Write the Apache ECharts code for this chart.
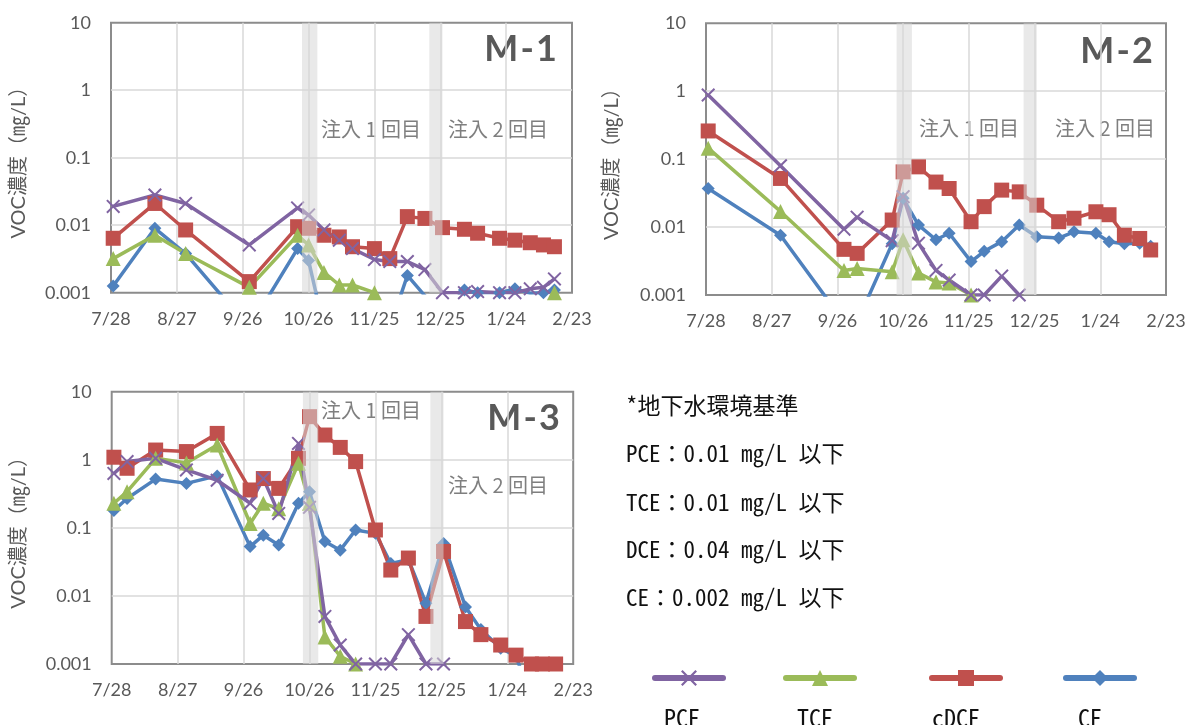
<!DOCTYPE html>
<html>
<head>
<meta charset="utf-8">
<script src="https://cdn.jsdelivr.net/npm/echarts@6/dist/echarts.min.js"></script>
<style>
  html, body { margin: 0; padding: 0; background: #fff; }
  #chart { width: 1189px; height: 725px; }
</style>
</head>
<body>
<div id="chart"></div>
<script>
// x axis: days since 7/28, ticks every 30 days
const xTickLabels = ['7/28', '8/27', '9/26', '10/26', '11/25', '12/25', '1/24', '2/23'];
const yTickLabels = ['0.001', '0.01', '0.1', '1', '10'];
const seriesNames = ['PCE', 'TCE', 'cDCE', 'CE'];
// injection periods (days since 7/28)
const bandRanges = [[87, 94], [145, 151]];

// M-1
const m1Days = [1, 20, 34, 63, 85, 90, 97, 104, 110, 120, 127, 135, 143, 151, 161, 167, 177, 184, 191, 197, 202];
const m1PCE = [0.019, 0.028, 0.021, 0.0051, 0.018, 0.0142, 0.0085, 0.006, 0.0045, 0.0031, 0.0029, 0.0029, 0.0022, 0.001, 0.001, 0.00104, 0.001, 0.001, 0.00114, 0.0012, 0.0016];
const m1TCE = [0.0032, 0.0071, 0.0038, 0.0012, 0.0071, 0.0051, 0.002, 0.0013, 0.0013, 0.001, 0.0003, 0.0003, 0.0003, 0.0003, 0.0003, 0.0003, 0.0003, 0.0003, 0.0003, 0.0003, 0.001];
const m1cDCE = [0.0064, 0.021, 0.0085, 0.00146, 0.0095, 0.009, 0.0071, 0.0067, 0.0048, 0.0045, 0.0032, 0.0134, 0.0126, 0.0092, 0.0087, 0.0076, 0.0064, 0.006, 0.0055, 0.0051, 0.0048];
const m1CE = [0.00126, 0.009, 0.0038, 0.0003, 0.0045, 0.003, 0.0003, 0.0003, 0.0003, 0.0003, 0.0003, 0.0018, 0.0009, 0.0005, 0.0011, 0.001, 0.001, 0.00114, 0.00098, 0.001, 0.0011];

// M-2
const m2Days = [1, 34, 63, 69, 85, 90, 97, 105, 111, 121, 127, 135, 143, 151, 161, 168, 178, 184, 191, 198, 203];
const m2PCE = [0.88, 0.08, 0.0093, 0.014, 0.0063, 0.028, 0.0058, 0.0023, 0.00166, 0.001, 0.001, 0.0019, 0.001, 0.0003, 0.0003, 0.0003, 0.0003, 0.0003, 0.0003, 0.0003, 0.0003];
const m2TCE = [0.145, 0.017, 0.0023, 0.00245, 0.0022, 0.0065, 0.0021, 0.00156, 0.0015, 0.001, 0.0003, 0.0003, 0.0003, 0.0003, 0.0003, 0.0003, 0.0003, 0.0003, 0.0003, 0.0003, 0.0003];
const m2cDCE = [0.26, 0.052, 0.0047, 0.0041, 0.0127, 0.065, 0.077, 0.046, 0.037, 0.012, 0.02, 0.035, 0.033, 0.021, 0.012, 0.0135, 0.0168, 0.0152, 0.0076, 0.0068, 0.0046];
const m2CE = [0.037, 0.0076, 0.0004, 0.0004, 0.0057, 0.0265, 0.0107, 0.0065, 0.0081, 0.0031, 0.0044, 0.0061, 0.0107, 0.0072, 0.0069, 0.0085, 0.0081, 0.0061, 0.0057, 0.0058, 0.0052];

// M-3
const m3Days = [1, 7, 20, 34, 48, 63, 69, 76, 85, 90, 97, 104, 111, 120, 127, 135, 143, 151, 161, 168, 177, 184, 191, 196, 202];
const m3PCE = [0.63, 0.94, 1.05, 0.71, 0.5, 0.23, 0.53, 0.163, 1.74, 0.2, 0.005, 0.0019, 0.001, 0.001, 0.001, 0.0027, 0.001, 0.001, 0.0003, 0.0003, 0.0003, 0.0003, 0.0003, 0.0003, 0.0003];
const m3TCE = [0.23, 0.34, 1.05, 0.9, 1.65, 0.116, 0.23, 0.19, 0.89, 0.23, 0.0025, 0.0013, 0.001, 0.0003, 0.0003, 0.0003, 0.0003, 0.0003, 0.0003, 0.0003, 0.0003, 0.0003, 0.0003, 0.0003, 0.0003];
const m3cDCE = [1.09, 0.75, 1.39, 1.32, 2.44, 0.36, 0.53, 0.38, 1.05, 4.3, 2.31, 1.52, 0.94, 0.093, 0.024, 0.036, 0.005, 0.045, 0.0042, 0.0027, 0.0019, 0.00135, 0.001, 0.001, 0.001];
const m3CE = [0.18, 0.27, 0.52, 0.45, 0.58, 0.053, 0.078, 0.056, 0.23, 0.34, 0.063, 0.047, 0.093, 0.083, 0.03, 0.034, 0.0078, 0.059, 0.0069, 0.0032, 0.0017, 0.0013, 0.0003, 0.0003, 0.0003];

const panels = [
  { title: 'M-1', days: m1Days, values: { PCE: m1PCE, TCE: m1TCE, cDCE: m1cDCE, CE: m1CE } },
  { title: 'M-2', days: m2Days, values: { PCE: m2PCE, TCE: m2TCE, cDCE: m2cDCE, CE: m2CE } },
  { title: 'M-3', days: m3Days, values: { PCE: m3PCE, TCE: m3TCE, cDCE: m3cDCE, CE: m3CE } }
];

const colors = { PCE: '#8064a2', TCE: '#9bbb59', cDCE: '#c0504d', CE: '#4f81bd' };
const symbols = {
  PCE: 'path://M0,2 L2,0 L10,8 L18,0 L20,2 L12,10 L20,18 L18,20 L10,12 L2,20 L0,18 L8,10 Z',
  TCE: 'triangle',
  cDCE: 'rect',
  CE: 'diamond'
};
const symbolSizes = { PCE: 14, TCE: 15, cDCE: 15, CE: 13 };
// draw order: CE at the bottom, PCE on top
const drawOrder = ['CE', 'cDCE', 'TCE', 'PCE'];

const grids = [
  { left: 111, top: 22.7, width: 461, height: 270, show: true, borderColor: '#8c8c8c', borderWidth: 2 },
  { left: 706, top: 23.3, width: 460, height: 271.7, show: true, borderColor: '#8c8c8c', borderWidth: 2 },
  { left: 111.7, top: 391.7, width: 461.5, height: 272.3, show: true, borderColor: '#8c8c8c', borderWidth: 2 }
];
const nameGaps = [82, 84, 83];

const tickFont = 'Lato, "Liberation Sans", sans-serif';
const jpFont = '"Noto Sans CJK JP", sans-serif';
const monoFont = '"Noto Sans Mono CJK JP", "Noto Sans CJK JP", monospace';

const xAxes = panels.map((p, i) => ({
  gridIndex: i,
  type: 'value',
  min: 0,
  max: 210,
  interval: 30,
  axisLine: { show: false },
  axisTick: { show: false },
  splitLine: { show: true, showMinLine: false, showMaxLine: false, lineStyle: { color: '#d9d9d9', width: 1.5 } },
  axisLabel: {
    margin: 17,
    color: '#595959',
    fontFamily: tickFont,
    fontSize: 18,
    formatter: v => xTickLabels[Math.round(v / 30)]
  }
}));

const yAxes = panels.map((p, i) => ({
  gridIndex: i,
  type: 'log',
  logBase: 10,
  min: 0.001,
  max: 10,
  axisLine: { show: false },
  axisTick: { show: false },
  splitLine: { show: true, showMinLine: false, showMaxLine: false, lineStyle: { color: '#d9d9d9', width: 1.5 } },
  axisLabel: {
    margin: 20,
    color: '#595959',
    fontFamily: tickFont,
    fontSize: 18,
    formatter: v => yTickLabels[Math.round(Math.log10(v)) + 3]
  },
  name: 'VOC濃度（㎎/L）',
  nameLocation: 'middle',
  nameRotate: 90,
  nameGap: nameGaps[i],
  nameTextStyle: { color: '#595959', fontSize: 20, fontFamily: 'Lato, "Noto Sans CJK JP", sans-serif' }
}));

const series = [];
panels.forEach((p, i) => {
  drawOrder.forEach(name => {
    series.push({
      name: name,
      type: 'line',
      xAxisIndex: i,
      yAxisIndex: i,
      data: p.days.map((d, k) => [d, p.values[name][k]]),
      symbol: symbols[name],
      symbolSize: symbolSizes[name],
      symbolKeepAspect: true,
      showAllSymbol: true,
      clip: true,
      color: colors[name],
      itemStyle: { color: colors[name] },
      lineStyle: { color: colors[name], width: 3.5 },
      animation: false
    });
  });
  // injection bands, drawn over the lines (semi-transparent)
  series.push({
    type: 'line',
    xAxisIndex: i,
    yAxisIndex: i,
    data: [],
    silent: true,
    markArea: {
      z: 10,
      silent: true,
      itemStyle: { color: 'rgba(215,215,215,0.55)' },
      data: bandRanges.map(r => [{ xAxis: r[0] }, { xAxis: r[1] }])
    }
  });
});

const legendLefts = [647, 778, 924, 1058];
const legends = seriesNames.map((n, i) => ({
  data: [n],
  left: legendLefts[i],
  top: 663,
  itemWidth: 68,
  itemHeight: 20,
  selectedMode: false,
  formatter: () => '',
  lineStyle: { width: 6, cap: 'round' }
}));

const legendLabelX = [682, 815, 956, 1090];
const criteria = [
  '*地下水環境基準',
  'PCE：0.01 mg/L 以下',
  'TCE：0.01 mg/L 以下',
  'DCE：0.04 mg/L 以下',
  'CE：0.002 mg/L 以下'
];
const criteriaY = [405, 453, 502, 549, 597];

const textEl = (x, y, text, font, fill, align) => ({
  type: 'text', x: x, y: y, silent: true,
  style: { text: text, font: font, fill: fill, align: align || 'left', verticalAlign: 'middle' }
});

const titleFont = 'bold 36px Lato, sans-serif';
const graphic = [
  textEl(557, 49, 'M\u200a-\u200a1', titleFont, '#595959', 'right'),
  textEl(1153, 51, 'M\u200a-\u200a2', titleFont, '#595959', 'right'),
  textEl(560, 418, 'M\u200a-\u200a3', titleFont, '#595959', 'right'),
  textEl(321, 129, '注入 1 回目', '20px ' + jpFont, '#7f7f7f'),
  textEl(448, 129, '注入 2 回目', '20px ' + jpFont, '#7f7f7f'),
  textEl(919, 128, '注入 1 回目', '20px ' + jpFont, '#7f7f7f'),
  textEl(1055, 128, '注入 2 回目', '20px ' + jpFont, '#7f7f7f'),
  textEl(321, 410, '注入 1 回目', '20px ' + jpFont, '#7f7f7f'),
  textEl(448, 485, '注入 2 回目', '20px ' + jpFont, '#7f7f7f')
];
criteria.forEach((t, i) => graphic.push(textEl(626, criteriaY[i], t, '23px ' + monoFont, '#111')));
seriesNames.forEach((n, i) => graphic.push(textEl(legendLabelX[i], 718, n, '24px ' + monoFont, '#111', 'center')));

const chart = echarts.init(document.getElementById('chart'));
chart.setOption({
  animation: false,
  backgroundColor: '#fff',
  grid: grids,
  xAxis: xAxes,
  yAxis: yAxes,
  legend: legends,
  series: series,
  graphic: graphic
});
</script>
</body>
</html>
